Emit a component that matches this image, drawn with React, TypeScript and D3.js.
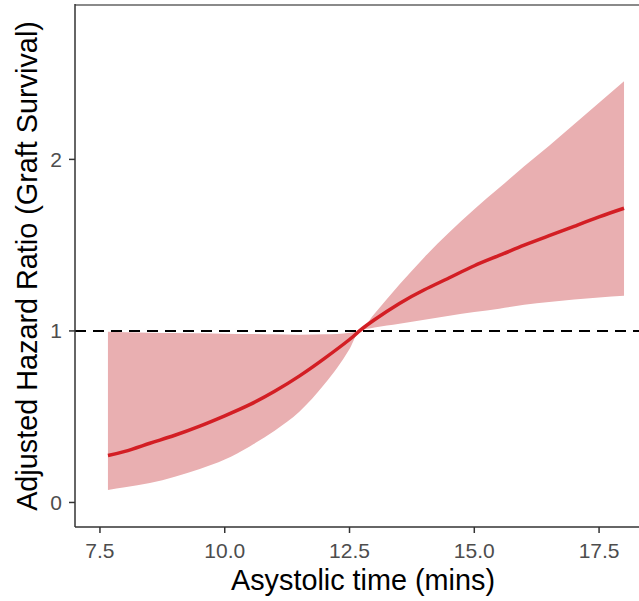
import React from "react";
import * as d3 from "d3";

const xs = [7.66, 8.0, 8.5, 9.0, 9.5, 10.0, 10.5, 11.0, 11.5, 12.0, 12.5, 12.7, 13.0, 13.5, 14.0, 14.5, 15.0, 15.5, 16.0, 16.5, 17.0, 17.5, 18.0];
const hr = [0.274, 0.298, 0.345, 0.392, 0.445, 0.505, 0.57, 0.648, 0.738, 0.84, 0.95, 1.0, 1.065, 1.16, 1.24, 1.31, 1.38, 1.44, 1.5, 1.555, 1.61, 1.665, 1.715];
const lower = [0.073, 0.088, 0.113, 0.15, 0.195, 0.25, 0.327, 0.418, 0.53, 0.69, 0.895, 1.0, 1.02, 1.042, 1.065, 1.088, 1.11, 1.13, 1.152, 1.168, 1.183, 1.195, 1.205];
const upper = [0.995, 0.993, 0.99, 0.988, 0.986, 0.984, 0.982, 0.98, 0.978, 0.98, 0.99, 1.0, 1.1, 1.27, 1.43, 1.575, 1.71, 1.835, 1.96, 2.08, 2.205, 2.33, 2.455];
const xTicks = [7.5, 10.0, 12.5, 15.0, 17.5];
const yTicks = [0, 1, 2];
const refLine = 1;

export default function App() {
  const W = 639, H = 601;
  const L = 75, R = 639, T = 5, B = 527;
  const x = d3.scaleLinear().domain([7.0, 18.3]).range([L, R]);
  const y = d3.scaleLinear().domain([-0.143, 2.9]).range([B, T]);
  const data = xs.map((v, i) => ({ x: v, m: hr[i], lo: lower[i], hi: upper[i] }));
  const area = d3.area<any>().x(d => x(d.x)).y0(d => y(d.lo)).y1(d => y(d.hi)).curve(d3.curveMonotoneX);
  const line = d3.line<any>().x(d => x(d.x)).y(d => y(d.m)).curve(d3.curveNatural);
  const font = "'Liberation Sans', Arial, sans-serif";
  return (
    <svg width={W} height={H} style={{ position: "absolute", left: 0, top: 0, background: "#fff" }} fontFamily={font}>
      <rect x={0} y={0} width={W} height={H} fill="#fff" />
      <path d={area(data) || ""} fill="#e9afb1" />
      <line x1={L} x2={R} y1={y(refLine)} y2={y(refLine)} stroke="#000" strokeWidth={2} strokeDasharray="11,7" />
      <path d={line(data) || ""} fill="none" stroke="#d31e24" strokeWidth={3.5} />
      <line x1={L} x2={R} y1={T} y2={T} stroke="#8a8a8a" strokeWidth={2} />
      <line x1={L} x2={L} y1={T - 1} y2={B} stroke="#333" strokeWidth={1.5} />
      <line x1={L} x2={R} y1={B} y2={B} stroke="#333" strokeWidth={1.5} />
      {xTicks.map(t => (
        <g key={t}>
          <line x1={x(t)} x2={x(t)} y1={B} y2={B + 6} stroke="#333" strokeWidth={1.5} />
          <text x={x(t)} y={B + 31} textAnchor="middle" fontSize={21} fill="#4d4d4d">{t.toFixed(1)}</text>
        </g>
      ))}
      {yTicks.map(t => (
        <g key={t}>
          <line x1={L - 6} x2={L} y1={y(t)} y2={y(t)} stroke="#333" strokeWidth={1.5} />
          <text x={L - 13} y={y(t) + 7.5} textAnchor="end" fontSize={21} fill="#4d4d4d">{t}</text>
        </g>
      ))}
      <text x={363} y={590} textAnchor="middle" fontSize={28.8} fill="#000">Asystolic time (mins)</text>
      <text transform={`translate(37,${(T + B) / 2}) rotate(-90)`} textAnchor="middle" fontSize={28.8} fill="#000">Adjusted Hazard Ratio (Graft Survival)</text>
    </svg>
  );
}
